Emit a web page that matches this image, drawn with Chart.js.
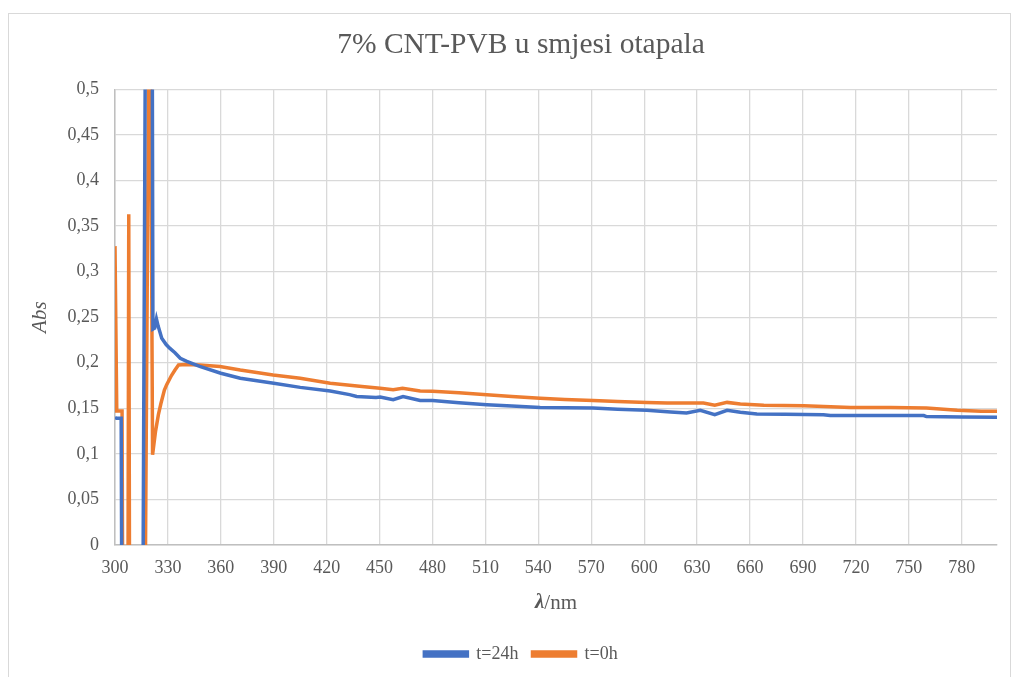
<!DOCTYPE html>
<html>
<head>
<meta charset="utf-8">
<script src="https://cdn.jsdelivr.net/npm/chart.js@4.4.0/dist/chart.umd.min.js"></script>
<style>
  html, body { margin: 0; padding: 0; background: #ffffff; }
  #wrap { width: 1020px; height: 677px; }
</style>
</head>
<body>
<div id="wrap"><canvas id="spectrumChart" width="1020" height="677"></canvas></div>
<script>
///////////////////////////////////////////////////////////////////////////
// DATA
///////////////////////////////////////////////////////////////////////////
var chartTitle = '7% CNT-PVB u smjesi otapala';
var seriesNames = ['t=24h', 't=0h'];

// t=24h (blue)
var wavelength24 = [300, 301, 302, 303.5, 304.3, 315.5, 316, 317.2, 320, 321.5, 322.5, 323.5, 324.5, 326.5,
  329, 331, 334, 337, 340.7, 348, 360, 371, 390, 405, 422, 433, 437, 448, 450.3, 457.7, 463.3, 473,
  480, 495, 510.8, 525, 541, 555, 571, 585, 601.5, 615, 624, 631.8, 640, 647, 654.5, 663.9, 680,
  701.6, 705.5, 730, 758.5, 760, 780, 800];
var abs24 = [0.140, 0.139, 0.139, 0.139, -0.3, -0.4, 0.016, 0.55, 1.5, 0.237, 0.238, 0.248, 0.240, 0.227,
  0.220, 0.216, 0.211, 0.205, 0.2015, 0.196, 0.1885, 0.183, 0.1776, 0.173, 0.169, 0.165, 0.163, 0.162, 0.1623, 0.1594, 0.163, 0.1587,
  0.1585, 0.156, 0.154, 0.1525, 0.151, 0.1505, 0.1503, 0.149, 0.1478, 0.146, 0.1449, 0.1478, 0.143, 0.1478, 0.1456, 0.1438, 0.1435,
  0.143, 0.142, 0.142, 0.142, 0.1409, 0.1405, 0.1402];

// t=0h (orange)
var wavelength0 = [300, 301, 304, 304.8, 307.1, 307.8, 308.5, 317.0, 319.3, 320, 321.3, 323, 324.6, 326,
  328, 329.3, 332, 334, 336, 340, 348, 359.5, 371, 389.6, 405, 422, 440, 450.3, 457.7, 463, 473,
  480, 495, 510.8, 525, 541, 555, 571, 585, 601.5, 613, 626, 633.6, 640, 647, 654.5, 667.8, 690.5,
  717, 739.8, 760, 777.5, 791, 800];
var abs0 = [0.328, 0.147, 0.147, -0.3, -0.3, 0.363, -0.3, -0.09, 0.59, 0.6, 0.099, 0.125, 0.143, 0.155,
  0.170, 0.176, 0.186, 0.192, 0.1975, 0.198, 0.1975, 0.196, 0.192, 0.1866, 0.183, 0.1776, 0.174, 0.172, 0.1703, 0.172, 0.169,
  0.1688, 0.167, 0.165, 0.163, 0.161, 0.1598, 0.1587, 0.1575, 0.1565, 0.1558, 0.1558, 0.1558, 0.1533, 0.1565, 0.1547, 0.1533, 0.1528,
  0.151, 0.151, 0.1503, 0.1478, 0.1467, 0.1467];

// axis ranges / ticks
var xMin = 300, xMax = 800, xStep = 30;
var yMin = 0, yMax = 0.5, yStep = 0.05;

///////////////////////////////////////////////////////////////////////////
// HELPERS
///////////////////////////////////////////////////////////////////////////
function toPoints(xs, ys) {
    var pts = [];
    for (var i = 0; i < xs.length; i++) {
        pts.push({x: xs[i], y: ys[i]});
    }
    return pts;
}

var serif = "'Liberation Serif', 'Times New Roman', serif";
var textGrey = '#595959';

// white background, outer frame and the x axis title (lambda is bold italic)
var framePlugin = {
    id: 'frame',
    beforeDraw: function(chart) {
        var ctx = chart.ctx;
        ctx.save();
        ctx.fillStyle = '#ffffff';
        ctx.fillRect(0, 0, chart.width, chart.height);
        ctx.strokeStyle = '#d9d9d9';
        ctx.lineWidth = 1;
        ctx.strokeRect(8.5, 13.5, 1002, 700);
        ctx.restore();
    },
    afterDraw: function(chart) {
        var ctx = chart.ctx;
        var area = chart.chartArea;
        ctx.save();
        ctx.fillStyle = textGrey;
        ctx.textBaseline = 'middle';
        var f1 = 'italic bold 21px ' + serif;
        var f2 = '21px ' + serif;
        ctx.font = f1;
        var w1 = ctx.measureText('λ').width;
        ctx.font = f2;
        var w2 = ctx.measureText('/nm').width;
        var x0 = (area.left + area.right) / 2 - (w1 + w2) / 2;
        ctx.font = f1;
        ctx.fillText('λ', x0, 603);
        ctx.font = f2;
        ctx.fillText('/nm', x0 + w1, 603);
        ctx.restore();
    }
};

///////////////////////////////////////////////////////////////////////////
// FUNCTION TO PLOT THE SPECTRA
///////////////////////////////////////////////////////////////////////////
function plotSpectra(canvasID) {
    var ctx = document.getElementById(canvasID).getContext('2d');

    var data = {
        datasets: [{
            label: seriesNames[0],
            data: toPoints(wavelength24, abs24),
            borderColor: '#4472C4',
            backgroundColor: '#4472C4',
            borderWidth: 3.5,
            pointRadius: 0,
            tension: 0
        }, {
            label: seriesNames[1],
            data: toPoints(wavelength0, abs0),
            borderColor: '#ED7D31',
            backgroundColor: '#ED7D31',
            borderWidth: 3.5,
            pointRadius: 0,
            tension: 0
        }]
    };

    var chart = new Chart(ctx, {
        type: 'line',
        data: data,
        plugins: [framePlugin],
        options: {
            responsive: false,
            animation: false,
            devicePixelRatio: 1,
            layout: { padding: { left: 22, right: 0, top: 13, bottom: 4 } },
            plugins: {
                title: {
                    display: true,
                    text: chartTitle,
                    color: textGrey,
                    font: { family: serif, size: 29.5, weight: 'normal' },
                    padding: { top: 15, bottom: 26 }
                },
                legend: {
                    position: 'bottom',
                    labels: {
                        color: textGrey,
                        font: { family: serif, size: 18 },
                        boxWidth: 43,
                        boxHeight: 4,
                        padding: 14
                    }
                },
                tooltip: { enabled: false }
            },
            scales: {
                x: {
                    type: 'linear',
                    min: xMin,
                    max: xMax,
                    ticks: {
                        stepSize: xStep,
                        color: textGrey,
                        font: { family: serif, size: 18 },
                        padding: 12,
                        maxRotation: 0,
                        autoSkip: false
                    },
                    // labels every 30 nm from 300, the 800 end gets none
                    afterBuildTicks: function(scale) {
                        var t = [];
                        for (var v = xMin; v < xMax; v += xStep) {
                            t.push({value: v});
                        }
                        scale.ticks = t;
                    },
                    afterFit: function(scale) { scale.height = 86; },
                    grid: { color: '#d9d9d9', lineWidth: 1.3, drawTicks: false },
                    border: { color: '#bfbfbf', width: 1.5 }
                },
                y: {
                    min: yMin,
                    max: yMax,
                    ticks: {
                        stepSize: yStep,
                        color: textGrey,
                        font: { family: serif, size: 18 },
                        padding: 16,
                        callback: function(v) {
                            var r = Math.round(v * 100) / 100;
                            return r === 0 ? '0' : String(r).replace('.', ',');
                        }
                    },
                    title: {
                        display: true,
                        text: 'Abs',
                        color: textGrey,
                        font: { family: serif, size: 21, style: 'italic' },
                        padding: { top: 6, bottom: 0 }
                    },
                    afterFit: function(scale) { scale.width = 93; },
                    grid: { color: '#d9d9d9', lineWidth: 1.3, drawTicks: false },
                    border: { color: '#bfbfbf', width: 1.5 }
                },
                // empty right axis only keeps the plot off the right edge
                yRight: {
                    position: 'right',
                    display: true,
                    ticks: { display: false },
                    grid: { display: false },
                    border: { display: false },
                    afterFit: function(scale) { scale.width = 23; }
                }
            }
        }
    });
    return chart;
}

plotSpectra('spectrumChart');
</script>
</body>
</html>
